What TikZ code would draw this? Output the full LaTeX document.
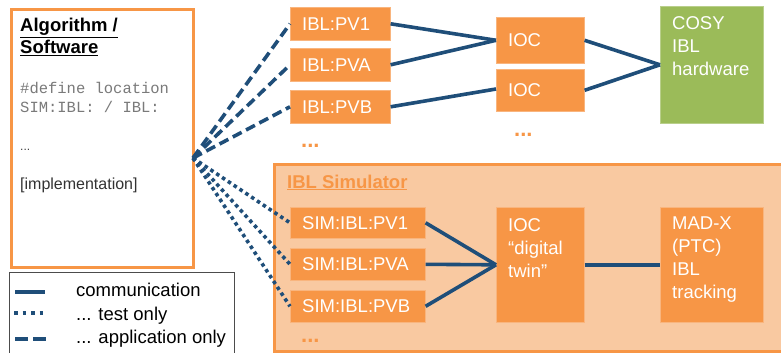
\documentclass[tikz,border=0pt]{standalone}
\usepackage{fontspec}
\setmainfont{Liberation Sans}
\setmonofont{Liberation Mono}
\definecolor{org}{HTML}{F79646}
\definecolor{orglight}{HTML}{F9C9A1}
\definecolor{lnblue}{HTML}{1F4E79}
\definecolor{grn}{HTML}{9BBB59}
\tikzset{
  obox/.style={fill=org, draw=org!70!white, line width=0.6pt, anchor=north west, inner sep=0pt},
  gbox/.style={fill=grn, draw=grn!70!white, line width=0.6pt, anchor=north west, inner sep=0pt},
  lbl/.style={text=white, inner sep=0pt, font=\fontsize{18.5}{23}\selectfont, align=left},
  dtxt/.style={inner sep=0pt, anchor=base west},
  comm/.style={draw=lnblue, line width=3.6pt},
  appl/.style={draw=lnblue, line width=3.6pt, dash pattern=on 10pt off 5pt},
  tst/.style={draw=lnblue, line width=3.6pt, dash pattern=on 3.5pt off 3.5pt},
  odots/.style={inner sep=0pt, anchor=base west, text=org, font=\fontsize{22}{22}\selectfont\bfseries}
}
\begin{document}
\begin{tikzpicture}[x=1pt,y=-1pt]
\useasboundingbox (0,0) rectangle (781,353);
% Algorithm box
\node[draw=org, line width=3pt, fill=white, minimum width=182pt, minimum height=258pt, anchor=north west, inner sep=0pt] (alg) at (10,8) {};
\node[dtxt, font=\fontsize{18.5}{22}\selectfont\bfseries] (algt1) at (20,32) {\underline{Algorithm /}};
\node[dtxt, font=\fontsize{18.5}{22}\selectfont\bfseries] (algt2) at (20,54) {\underline{Software}};
\node[dtxt, text=black!52, font=\ttfamily\fontsize{15.5}{19}\selectfont] (code1) at (20,93) {\#define location};
\node[dtxt, text=black!52, font=\ttfamily\fontsize{15.5}{19}\selectfont] (code2) at (20,112) {SIM:IBL: / IBL:};
\node[dtxt, text=black!75, font=\fontsize{12}{14}\selectfont] (ell) at (20,150) {...};
\node[dtxt, text=black!80, font=\fontsize{16}{19}\selectfont] (impl) at (20,189) {[implementation]};
\coordinate (src) at (193,158);

% Simulator box
\draw[draw=org, fill=orglight, line width=3pt] (274,164) rectangle (790,351);
\node[dtxt, text=org, font=\fontsize{18.5}{22}\selectfont\bfseries] (simt) at (287,188) {\underline{IBL Simulator}};

% Top row boxes
\node[obox, minimum width=100pt, minimum height=33pt] (pv1) at (290,7) {};
\node[obox, minimum width=100pt, minimum height=33pt] (pva) at (290,48) {};
\node[obox, minimum width=100pt, minimum height=33pt] (pvb) at (290,90) {};
\node[lbl, anchor=west] (pv1t) at ([xshift=12pt]pv1.west) {IBL:PV1};
\node[lbl, anchor=west] (pvat) at ([xshift=12pt]pva.west) {IBL:PVA};
\node[lbl, anchor=west] (pvbt) at ([xshift=12pt]pvb.west) {IBL:PVB};
\node[odots] (pvdots) at (301,147) {...};

\node[obox, minimum width=88pt, minimum height=46pt] (ioc1) at (496,17) {};
\node[obox, minimum width=88pt, minimum height=42pt] (ioc2) at (496,69) {};
\node[lbl, anchor=west] (ioc1t) at ([xshift=12pt]ioc1.west) {IOC};
\node[lbl, anchor=west] (ioc2t) at ([xshift=12pt]ioc2.west) {IOC};
\node[odots] (iocdots) at (514,136) {...};

\node[gbox, minimum width=103pt, minimum height=117pt] (cosy) at (660,6) {};
\node[lbl, anchor=north west] (cosyt) at (672,16) {COSY\\IBL\\hardware};

% Simulator boxes
\node[obox, minimum width=135pt, minimum height=31pt] (spv1) at (290,207) {};
\node[obox, minimum width=135pt, minimum height=32pt] (spva) at (290,248) {};
\node[obox, minimum width=135pt, minimum height=32pt] (spvb) at (290,290) {};
\node[lbl, anchor=west] (spv1t) at ([xshift=12pt]spv1.west) {SIM:IBL:PV1};
\node[lbl, anchor=west] (spvat) at ([xshift=12pt]spva.west) {SIM:IBL:PVA};
\node[lbl, anchor=west] (spvbt) at ([xshift=12pt]spvb.west) {SIM:IBL:PVB};
\node[odots] (spvdots) at (301,342) {...};

\node[obox, minimum width=88pt, minimum height=115pt] (iocdt) at (496,207) {};
\node[lbl, anchor=north west] (iocdtt) at (508,218) {IOC\\“digital\\twin”};
\node[obox, minimum width=103pt, minimum height=115pt] (madx) at (660,207) {};
\node[lbl, anchor=north west] (madxt) at (672,217) {MAD-X\\(PTC)\\IBL\\tracking};

% connectors
\draw[comm] (pv1.east) -- (ioc1.west);
\draw[comm] (pva.east) -- (ioc1.west);
\draw[comm] (pvb.east) -- (ioc2.west |- 0,89);
\draw[comm] (ioc1.east) -- (cosy.west);
\draw[comm] (ioc2.east) -- (cosy.west);
\draw[comm] (spv1.east) -- (iocdt.west);
\draw[comm] (spva.east) -- (iocdt.west);
\draw[comm] (spvb.east) -- (iocdt.west);
\draw[comm] (iocdt.east) -- (madx.west);

\draw[appl] (src) -- (pv1.west);
\draw[appl] (src) -- (pva.west);
\draw[appl] (src) -- (pvb.west);
\draw[tst] (src) -- (spv1.west);
\draw[tst] (src) -- (spva.west);
\draw[tst] (src) -- (spvb.west);

% legend
\draw[draw=black!70, fill=white, line width=0.8pt] (9,272) rectangle (234,360);
\coordinate (l1a) at (15,292); \coordinate (l1b) at (45,292);
\coordinate (l2a) at (13,313); \coordinate (l2b) at (47,313);
\coordinate (l3a) at (13,339); \coordinate (l3b) at (47,339);
\draw[comm] (l1a) -- (l1b);
\draw[draw=lnblue, line width=3.6pt, dash pattern=on 3.5pt off 5pt, dash phase=-1pt] (l2a) -- (l2b);
\draw[draw=lnblue, line width=3.6pt, dash pattern=on 13pt off 5pt, dash phase=-2pt] (l3a) -- (l3b);
\node[dtxt, font=\fontsize{18.5}{22}\selectfont] (lg1) at (76,296) {communication};
\node[dtxt, font=\fontsize{18.5}{22}\selectfont] (lg2) at (76,320) {... test only};
\node[dtxt, font=\fontsize{18.5}{22}\selectfont] (lg3) at (76,343) {... application only};
\end{tikzpicture}
\end{document}
